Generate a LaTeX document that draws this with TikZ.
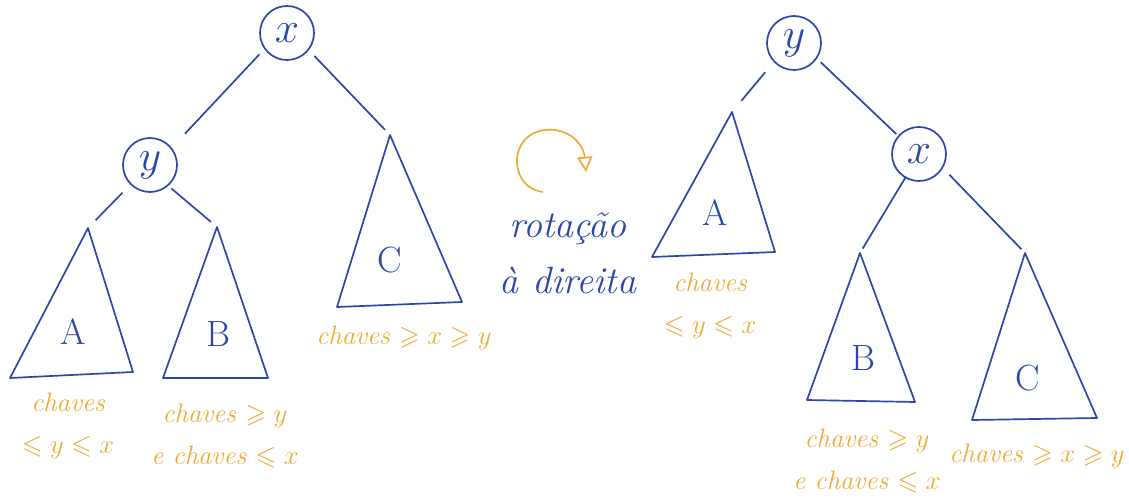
\RequirePackage{fix-cm}
\documentclass[tikz,border=0pt]{standalone}
\usepackage{amssymb}
\usetikzlibrary{arrows.meta}
\definecolor{PenBlue}{RGB}{45,70,170}
\definecolor{PenOrange}{RGB}{240,170,50}

\begin{document}
\begin{tikzpicture}[
  x=0.025cm, y=-0.025cm,
  keynode/.style={
    circle, draw=PenBlue, line width=1.2pt, minimum size=1.35cm,
    inner sep=0pt, outer sep=0pt, text=PenBlue, font=\fontsize{31}{33}\selectfont
  },
  subtree/.style={draw=PenBlue, line width=1.2pt, line join=round},
  treename/.style={text=PenBlue, font=\fontsize{26}{30}\selectfont},
  edge/.style={draw=PenBlue, line width=1.2pt},
  keys/.style={text=PenOrange, align=center, font=\fontsize{19}{30}\selectfont\itshape},
  rotlabel/.style={text=PenBlue, align=center, font=\fontsize{27}{40}\selectfont\itshape},
  rotarrow/.style={draw=PenOrange, line width=1.2pt, -{Triangle[open, length=0.38cm, width=0.38cm]}}
]
\useasboundingbox (0,0) rectangle (1129,498);

% --- Left tree (before rotation)
\node[keynode] (xL) at (287,33)  {$x$};
\node[keynode] (yL) at (150,165) {$y$};
\coordinate (AtopL) at (88,228);
\coordinate (BtopL) at (217,227);
\coordinate (CtopL) at (390,135);

\draw[subtree] (AtopL) -- (10,378) -- (133,372) -- cycle;
\draw[subtree] (BtopL) -- (163,378) -- (268,378) -- cycle;
\draw[subtree] (CtopL) -- (337,307) -- (462,302) -- cycle;

\node[treename] (AL) at (73,332)  {A};
\node[treename] (BL) at (218,334) {B};
\node[treename] (CL) at (390,260) {C};

\draw[edge, shorten <=0.2cm, shorten >=0.5cm]  (xL.215) -- (yL.38);
\draw[edge, shorten <=0.22cm, shorten >=0.18cm] (xL.322) -- (CtopL);
\draw[edge, shorten <=0.3cm, shorten >=0.27cm] (yL.225) -- (AtopL);
\draw[edge, shorten <=0.12cm, shorten >=0.2cm] (yL.311) -- (BtopL);

\node[keys] (keysAL) at (68,426)  {chaves\\$\leqslant y \leqslant x$};
\node[keys] (keysBL) at (225,436) {chaves $\geqslant y$\\e chaves $\leqslant x$};
\node[keys] (keysCL) at (404,338) {chaves $\geqslant x \geqslant y$};

% --- Rotation
\coordinate (rotstart) at (543,192);
\coordinate (rotend)   at (586,172);
\draw[rotarrow] (rotstart) .. controls (505,187) and (508,125) .. (555,130)
  .. controls (575,133) and (584,148) .. (rotend);
\node[rotlabel] (rotation) at (568,253) {rotação\\à direita};

% --- Right tree (after rotation)
\node[keynode] (yR) at (794,43)  {$y$};
\node[keynode] (xR) at (919,154) {$x$};
\coordinate (AtopR) at (732,112);
\coordinate (BtopR) at (860,253);
\coordinate (CtopR) at (1025,253);

\draw[subtree] (AtopR) -- (652,257) -- (775,252) -- cycle;
\draw[subtree] (BtopR) -- (807,400) -- (915,402) -- cycle;
\draw[subtree] (CtopR) -- (972,420) -- (1097,418) -- cycle;

\node[treename] (AR) at (715,213)  {A};
\node[treename] (BR) at (863,358)  {B};
\node[treename] (CR) at (1028,378) {C};

\draw[edge, shorten <=0.35cm, shorten >=0.36cm] (yR.223) -- (AtopR);
\draw[edge, shorten <=0.15cm, shorten >=0.08cm] (yR.326) -- (xR.139);
\draw[edge, shorten >=0.13cm] (xR.240) -- (BtopR);
\draw[edge, shorten <=0.25cm, shorten >=0.13cm] (xR.330) -- (CtopR);

\node[keys] (keysAR) at (710,306)  {chaves\\$\leqslant y \leqslant x$};
\node[keys] (keysBR) at (867,461)  {chaves $\geqslant y$\\e chaves $\leqslant x$};
\node[keys] (keysCR) at (1037,456) {chaves $\geqslant x \geqslant y$};

\end{tikzpicture}
\end{document}
